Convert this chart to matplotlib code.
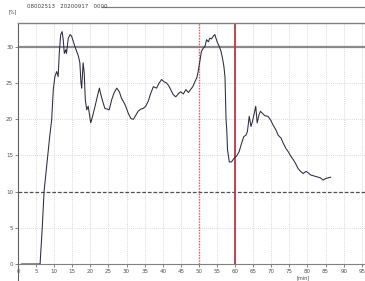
import matplotlib
matplotlib.use("Agg")
import matplotlib.pyplot as plt
from matplotlib.lines import Line2D

# readings [min] / [%]
t = [1.0, 6.1, 6.7, 7.2, 8.1, 8.8, 9.3, 9.75, 10.2, 10.7, 11.1, 11.4, 11.8, 12.2, 12.5,
     12.8, 13.2, 13.4, 13.9, 14.4, 14.8, 15.3, 15.7, 16.2, 16.7, 17.1, 17.4, 17.6, 18.0,
     18.3, 18.6, 19.0, 19.4, 20.1, 20.6, 21.3, 21.9, 22.5, 22.9, 23.4, 24.0, 24.7, 25.2,
     25.9, 26.5, 27.3, 28.0, 28.6, 29.6, 30.5, 31.2, 31.9, 32.6, 33.2, 33.9, 34.6, 35.3,
     36.0, 36.7, 37.4, 38.3, 39.0, 39.7, 40.3, 41.1, 41.8, 42.9, 43.6, 44.3, 44.9, 45.7,
     46.4, 47.1, 47.7, 48.3, 48.9, 49.4, 49.8, 50.3, 50.7, 51.2, 51.7, 52.1, 52.6, 53.0,
     53.5, 54.0, 54.4, 54.7, 55.2, 55.6, 56.1, 56.5, 56.9, 57.2, 57.5, 57.7, 57.9, 58.4,
     59.0, 59.7, 60.4, 61.1, 61.8, 62.4, 63.0, 63.4, 63.9, 64.4, 64.8, 65.2, 65.7, 66.1,
     66.6, 67.0, 67.6, 68.2, 69.1, 69.8, 70.5, 71.3, 71.9, 72.7, 73.3, 74.0, 74.7, 75.4,
     76.1, 76.8, 77.4, 78.1, 78.8, 79.6, 80.2, 80.9, 81.6, 82.3, 83.0, 83.6, 84.3, 85.0,
     85.7, 86.4]
pct = [0.0, 0.0, 5.0, 10.0, 14.4, 17.8, 19.9, 24.1, 25.9, 26.6, 25.9, 29.1, 31.7, 32.1, 31.0,
       29.1, 29.6, 29.1, 31.2, 31.7, 31.5, 30.7, 30.1, 29.4, 28.7, 27.8, 25.0, 24.3, 27.8,
       26.4, 22.7, 21.3, 21.8, 19.5, 20.4, 21.8, 23.1, 24.3, 23.4, 22.5, 21.5, 21.4, 21.3,
       22.7, 23.6, 24.3, 23.8, 22.9, 22.0, 20.8, 20.1, 20.0, 20.6, 21.1, 21.4, 21.5, 21.8,
       22.5, 23.6, 24.5, 24.3, 25.0, 25.5, 25.2, 25.0, 24.5, 23.4, 23.1, 23.5, 23.8, 23.5,
       24.1, 23.7, 24.1, 24.5, 25.2, 25.7, 26.6, 28.2, 29.4, 29.8, 30.1, 31.0, 30.7, 31.2,
       31.1, 31.5, 31.7, 31.2, 30.5, 30.1, 29.4, 28.5, 27.3, 25.9, 19.9, 18.5, 15.8, 14.1,
       14.1, 14.6, 14.9, 15.5, 16.7, 17.6, 17.8, 18.3, 20.4, 19.0, 19.7, 20.6, 21.8, 19.5,
       20.6, 21.1, 20.8, 20.5, 20.4, 19.9, 19.2, 18.5, 17.8, 17.4, 16.7, 16.0, 15.5, 14.9,
       14.4, 13.8, 13.2, 12.8, 12.5, 12.8, 12.6, 12.3, 12.2, 12.1, 12.0, 11.9, 11.6, 11.8,
       11.9, 12.0]

x_ticks = list(range(0, 100, 5))
y_ticks = list(range(0, 35, 5))
upper_limit = 30
lower_limit = 10
marker_dotted = 50
marker_solid = 60
header = "08002513   20200917   0000"

fig = plt.figure(figsize=(3.65, 2.81), dpi=100)
ax = fig.add_axes([18 / 365, 17 / 281, 347 / 365, 241 / 281])
ax.set_xlim(0, 95.9)
ax.set_ylim(0, 33.3)

for xv in x_ticks[1:]:
    ax.axvline(xv, color="#cccccc", lw=0.6, ls=(0, (1, 1.5)), zorder=1)
for yv in [5, 15, 20, 25]:
    ax.axhline(yv, color="#cccccc", lw=0.6, ls=(0, (1, 1.5)), zorder=1)

ax.axhline(upper_limit, color="#8a8a8a", lw=1.6, zorder=2)
ax.axhline(lower_limit, color="#505050", lw=0.9, ls=(0, (3, 1.5)), zorder=2)
ax.axvline(marker_dotted, color="#e05a5a", lw=1.0, ls=(0, (1, 1)), zorder=2)
ax.axvline(marker_solid, color="#c83040", lw=1.3, zorder=2)

ax.plot(t, pct, color="#2a2a40", lw=0.75, zorder=3)

ax.spines["right"].set_visible(False)
ax.spines["top"].set_color("#808080")
ax.spines["top"].set_linewidth(1.0)
ax.spines["left"].set_color("#606060")
ax.spines["left"].set_linewidth(0.8)
ax.spines["bottom"].set_color("#808080")
ax.spines["bottom"].set_linewidth(0.8)

ax.set_xticks(x_ticks)
ax.set_yticks(y_ticks)
ax.tick_params(axis="both", labelsize=4, colors="#505050", length=2, width=0.5, pad=1.5)

fig.add_artist(Line2D([18 / 365, 18 / 365], [0, 17 / 281], color="#606060", lw=0.8))
fig.add_artist(Line2D([102 / 365, 1], [1 - 7 / 281, 1 - 7 / 281], color="#808080", lw=0.9))

fig.text(27 / 365, 1 - 6 / 281, header, fontsize=4, color="#404040", va="center", ha="left")
fig.text(13 / 365, 1 - 12 / 281, "[%]", fontsize=3.5, color="#404040", va="center", ha="center")
fig.text(303 / 365, 1 - 278 / 281, "[min]", fontsize=3.5, color="#404040", va="center", ha="center")

fig.savefig("out.png", dpi=100)
